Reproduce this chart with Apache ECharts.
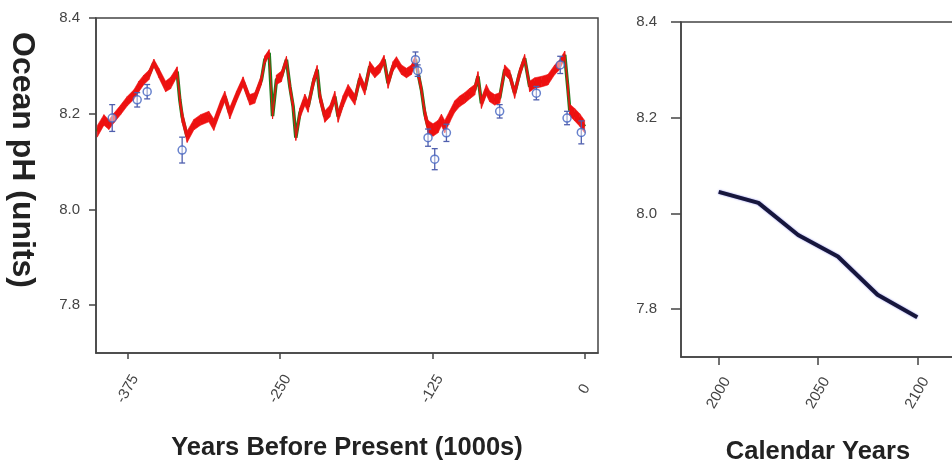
<!DOCTYPE html>
<html><head><meta charset="utf-8">
<script src="https://cdn.jsdelivr.net/npm/echarts@6/dist/echarts.min.js"></script>
<style>html,body{margin:0;padding:0;background:#fff}#chart{width:952px;height:465px}</style>
</head><body><div id="chart"></div>
<script>
// Reconstructed ocean pH (years before present, 1000s)
const bpAge = [
-400,-394.5,-390.4,-386.3,-380.8,-375.4,-369.9,-365.8,-361.7,-357.6,
-353.5,-349.4,-343.9,-339.8,-334.4,-332.2,-330.3,-326.2,-320.7,-315.2,
-308.4,-304.3,-298.8,-295.3,-291.2,-285.7,-280.3,-274.8,-270.7,-265.2,
-262.4,-258.9,-256.1,-252.9,-248.8,-244.7,-241.9,-239.2,-237.0,-233.7,
-229.6,-226.9,-222.8,-219.5,-217.3,-213.2,-209.1,-205.0,-202.3,-198.2,
-194.1,-188.6,-184.5,-180.4,-176.3,-172.2,-168.1,-164.6,-161.3,-157.2,
-154.4,-150.3,-146.2,-142.1,-138.8,-136.7,-133.9,-131.2,-128.5,-124.4,
-120.3,-117.5,-114.8,-110.7,-106.6,-102.5,-98.4,-94.3,-90.2,-87.5,
-84.7,-80.6,-77.9,-73.8,-69.7,-65.6,-61.5,-57.4,-53.3,-49.2,
-45.1,-41.0,-35.5,-30.1,-24.5,-20.5,-16.3,-13.6,-12.2,-8.1,
-4.0,0
];
const bpPH = [
8.163,8.187,8.177,8.191,8.208,8.226,8.240,8.257,8.271,8.281,
8.306,8.285,8.257,8.264,8.288,8.229,8.194,8.152,8.177,8.187,
8.194,8.177,8.215,8.236,8.201,8.236,8.267,8.229,8.233,8.271,
8.313,8.327,8.195,8.271,8.278,8.313,8.257,8.215,8.150,8.201,
8.229,8.215,8.264,8.292,8.236,8.194,8.205,8.236,8.194,8.226,
8.250,8.229,8.274,8.250,8.299,8.285,8.295,8.313,8.264,8.299,
8.309,8.292,8.285,8.292,8.313,8.285,8.250,8.201,8.173,8.166,
8.173,8.187,8.173,8.194,8.215,8.226,8.233,8.242,8.250,8.278,
8.222,8.250,8.236,8.229,8.233,8.292,8.281,8.243,8.285,8.316,
8.257,8.264,8.267,8.271,8.292,8.302,8.323,8.250,8.208,8.198,
8.187,8.173
];
const bpSpread = [
0.012,0.011,0.010,0.010,0.010,0.010,0.010,0.011,0.010,0.010,
0.008,0.010,0.011,0.012,0.010,0.012,0.013,0.012,0.011,0.011,
0.011,0.012,0.012,0.011,0.012,0.011,0.010,0.011,0.011,0.010,
0.008,0.007,0.006,0.010,0.011,0.007,0.011,0.010,0.006,0.011,
0.012,0.012,0.011,0.009,0.012,0.012,0.012,0.011,0.012,0.012,
0.011,0.011,0.010,0.011,0.010,0.010,0.010,0.009,0.011,0.010,
0.010,0.010,0.010,0.010,0.009,0.010,0.010,0.012,0.013,0.013,
0.013,0.012,0.013,0.012,0.012,0.011,0.011,0.011,0.011,0.010,
0.011,0.011,0.011,0.011,0.011,0.010,0.010,0.011,0.010,0.008,
0.011,0.011,0.011,0.011,0.010,0.010,0.008,0.012,0.012,0.013,
0.013,0.013
];
// Proxy measurements with error bars
const proxyAge = [-387.7,-367.2,-359.0,-330.3,-138.8,-137.0,-128.5,-123.0,-113.4,-69.7,-39.6,-20.0,-14.4,-2.7];
const proxyPH  = [8.191,8.229,8.246,8.124,8.313,8.290,8.150,8.105,8.160,8.205,8.243,8.302,8.191,8.161];
const proxyErr = [0.028,0.015,0.015,0.027,0.016,0.012,0.018,0.022,0.018,0.014,0.014,0.018,0.014,0.024];
// Projection
const futureYear = [2000,2020,2040,2060,2080,2100];
const futurePH = [8.045,8.022,7.955,7.910,7.830,7.783];
// Tick labels
const leftXTicks = [-375,-250,-125,0];
const rightXTicks = [2000,2050,2100];
const phTicks = [7.8,8.0,8.2,8.4];

const FONT = "'Liberation Sans', Arial, Helvetica, sans-serif";
const AXIS_COLOR = '#444';
const chart = echarts.init(document.getElementById('chart'), null, {renderer:'canvas'});

function xAxisCfg(gridIndex, min, max, ticks, name, tickLen) {
  return {
    type:'value', gridIndex, min, max,
    name, nameLocation:'middle', nameGap:82,
    nameTextStyle:{fontSize:25.5, fontWeight:'bold', color:'#222', fontFamily:FONT},
    axisLine:{show:true, onZero:false, lineStyle:{color:AXIS_COLOR, width:1.5}},
    axisTick:{show:true, length:tickLen, customValues:ticks, lineStyle:{color:AXIS_COLOR, width:1.5}},
    axisLabel:{customValues:ticks, rotate:60, align:'center', verticalAlign:'middle', margin:36,
      fontSize:15, color:'#444', fontFamily:FONT, formatter:v=>String(v)},
    splitLine:{show:false}
  };
}
function yAxisCfg(gridIndex, margin, tickLen) {
  return {
    type:'value', gridIndex, min:7.7, max:8.4,
    axisLine:{show:true, onZero:false, lineStyle:{color:AXIS_COLOR, width:1.5}},
    axisTick:{show:true, length:tickLen, customValues:phTicks, lineStyle:{color:AXIS_COLOR, width:1.5}},
    axisLabel:{customValues:phTicks, margin, fontSize:15, color:'#444', fontFamily:FONT,
      formatter:v=>v.toFixed(1)},
    splitLine:{show:false}
  };
}

// band segments: [x0, lo0, hi0, x1, lo1, hi1]
const bandSegments = [];
for (let i = 0; i < bpAge.length - 1; i++) {
  bandSegments.push([
    bpAge[i], bpPH[i]-bpSpread[i], bpPH[i]+bpSpread[i],
    bpAge[i+1], bpPH[i+1]-bpSpread[i+1], bpPH[i+1]+bpSpread[i+1]
  ]);
}

chart.setOption({
  animation:false,
  backgroundColor:'#fff',
  grid:[
    {left:96, top:18, width:502, height:335, show:true, borderColor:AXIS_COLOR, borderWidth:1.5,
      backgroundColor:'transparent', containLabel:false, outerBoundsMode:'none'},
    {left:681, top:22, width:274, height:335, show:true, borderColor:AXIS_COLOR, borderWidth:1.5,
      backgroundColor:'transparent', containLabel:false, outerBoundsMode:'none'}
  ],
  xAxis:[
    xAxisCfg(0, -401, 11, leftXTicks, 'Years Before Present (1000s)', 6),
    xAxisCfg(1, 1981, 2119, rightXTicks, 'Calendar Years', 8)
  ],
  yAxis:[ yAxisCfg(0, 16, 7), yAxisCfg(1, 24, 10) ],
  graphic:[{
    type:'text', x:22, y:160, rotation:-Math.PI/2,
    style:{text:'Ocean pH (units)', fontSize:32, fontWeight:'bold', fill:'#222', fontFamily:FONT,
      align:'center', verticalAlign:'middle'}
  }],
  series:[
    {
      type:'line', xAxisIndex:0, yAxisIndex:0, z:2,
      data: bpAge.map((a,i)=>[a, bpPH[i]]),
      symbol:'none', lineStyle:{color:'#1b7d1b', width:3.5}
    },
    {
      type:'custom', xAxisIndex:0, yAxisIndex:0, z:3,
      data: bandSegments,
      encode:{x:[0,3], y:[1,2,4,5]},
      renderItem:(params, api)=>{
        const p0l = api.coord([api.value(0), api.value(1)]);
        const p0h = api.coord([api.value(0), api.value(2)]);
        const p1l = api.coord([api.value(3), api.value(4)]);
        const p1h = api.coord([api.value(3), api.value(5)]);
        return {type:'polygon', shape:{points:[p0l, p1l, p1h, p0h]},
          style:{fill:'#ee1010', stroke:'#ee1010', lineWidth:0.6}};
      }
    },
    {
      type:'custom', xAxisIndex:0, yAxisIndex:0, z:4,
      data: proxyAge.map((a,i)=>[a, proxyPH[i], proxyErr[i]]),
      encode:{x:0, y:1},
      renderItem:(params, api)=>{
        const x = api.value(0), y = api.value(1), e = api.value(2);
        const hi = api.coord([x, y+e]), lo = api.coord([x, y-e]);
        const w = 3;
        const style = {stroke:'#4f5fae', lineWidth:1.3};
        return {type:'group', children:[
          {type:'line', shape:{x1:hi[0], y1:hi[1], x2:lo[0], y2:lo[1]}, style},
          {type:'line', shape:{x1:hi[0]-w, y1:hi[1], x2:hi[0]+w, y2:hi[1]}, style},
          {type:'line', shape:{x1:lo[0]-w, y1:lo[1], x2:lo[0]+w, y2:lo[1]}, style}
        ]};
      }
    },
    {
      type:'scatter', xAxisIndex:0, yAxisIndex:0, z:5,
      data: proxyAge.map((a,i)=>[a, proxyPH[i]]),
      symbol:'circle', symbolSize:8,
      itemStyle:{color:'rgba(255,255,255,0.6)', borderColor:'#4263c0', borderWidth:1.5}
    },
    {
      type:'line', xAxisIndex:1, yAxisIndex:1, z:3,
      data: futureYear.map((y,i)=>[y, futurePH[i]]),
      symbol:'none',
      lineStyle:{color:'#16163c', width:4, shadowColor:'rgba(60,60,220,0.6)', shadowBlur:2}
    }
  ]
});
</script></body></html>
